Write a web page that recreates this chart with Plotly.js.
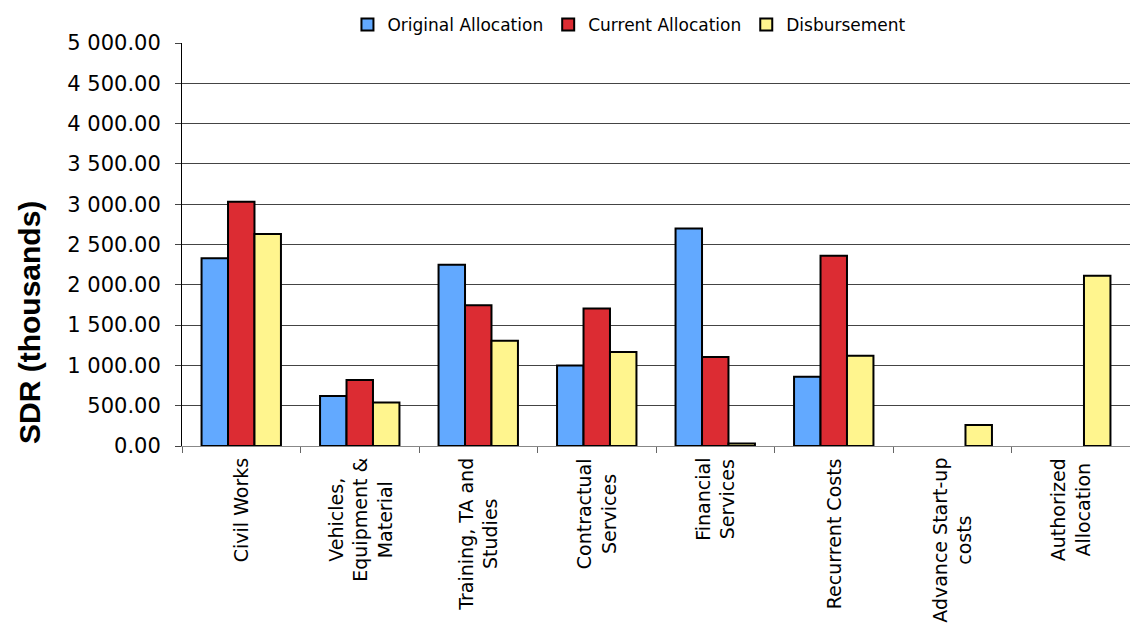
<!DOCTYPE html>
<html>
<head>
<meta charset="utf-8">
<script src="https://cdn.plot.ly/plotly-3.0.1.min.js"></script>
<style>html,body{margin:0;padding:0;background:#fff;}#chart{width:1130px;height:625px;}</style>
</head>
<body>
<div id="chart"></div>
<script>
const categories = [
  "Civil Works",
  "Vehicles,<br>Equipment &<br>Material",
  "Training, TA and<br>Studies",
  "Contractual<br>Services",
  "Financial<br>Services",
  "Recurrent Costs",
  "Advance Start-up<br>costs",
  "Authorized<br>Allocation"
];
const originalAllocation = [2330, 620, 2250, 1000, 2700, 860, null, null];
const currentAllocation  = [3030, 820, 1745, 1705, 1105, 2360, null, null];
const disbursement       = [2630, 540, 1307, 1166, 30, 1120, 260, 2113];
const yTickVals = [0, 500, 1000, 1500, 2000, 2500, 3000, 3500, 4000, 4500, 5000];
const yTickText = ["0.00", "500.00", "1 000.00", "1 500.00", "2 000.00", "2 500.00", "3 000.00", "3 500.00", "4 000.00", "4 500.00", "5 000.00"];
const yTitle = "SDR (thousands)";

const line = {color: "#000", width: 2};
const traces = [
  {type: "bar", name: "Original Allocation", x: categories, y: originalAllocation, marker: {color: "#62A9FF", line: line}},
  {type: "bar", name: "Current Allocation", x: categories, y: currentAllocation, marker: {color: "#DC2C33", line: line}},
  {type: "bar", name: "Disbursement", x: categories, y: disbursement, marker: {color: "#FFF58E", line: line}}
];

const catAnnotations = categories.map(c => ({
  x: c, xref: "x", y: 0, yref: "paper", yshift: -10,
  text: c, showarrow: false, textangle: -90,
  xanchor: "center", yanchor: "top", align: "center",
  font: {family: "DejaVu Sans, sans-serif", size: 19, color: "#000"}
}));

const layout = {
  width: 1130, height: 625,
  margin: {l: 182, r: 0, t: 43, b: 179},
  paper_bgcolor: "#fff", plot_bgcolor: "#fff",
  font: {family: "DejaVu Sans, sans-serif", color: "#000"},
  barmode: "group", bargap: 0.33, bargroupgap: 0,
  showlegend: true,
  legend: {orientation: "h", x: 0.472, xanchor: "center", y: 1.0, yanchor: "bottom",
           font: {size: 17}, bgcolor: "#fff", traceorder: "normal", itemwidth: 16},
  xaxis: {
    type: "category", tickson: "boundaries", ticks: "outside", ticklen: 6, tickcolor: "#666",
    showticklabels: false, showline: true, linecolor: "#888", linewidth: 1,
    showgrid: false, automargin: false
  },
  yaxis: {
    range: [0, 5000], tickvals: yTickVals, ticktext: yTickText, tickfont: {size: 21},
    ticks: "outside", ticklen: 6, tickcolor: "#444", ticklabelstandoff: 10,
    showline: true, linecolor: "#000", linewidth: 1,
    showgrid: true, gridcolor: "#444", gridwidth: 1, zeroline: false, automargin: false
  },
  annotations: catAnnotations.concat([{
    text: "<b>" + yTitle + "</b>", xref: "paper", yref: "paper",
    x: (29 - 182) / 948, y: (446 - 323) / 403, xanchor: "center", yanchor: "middle",
    textangle: -90, showarrow: false,
    font: {family: "Liberation Sans, Arial, sans-serif", size: 30, color: "#000"}
  }])
};
Plotly.newPlot("chart", traces, layout, {displayModeBar: false, staticPlot: true});
</script>
</body>
</html>
